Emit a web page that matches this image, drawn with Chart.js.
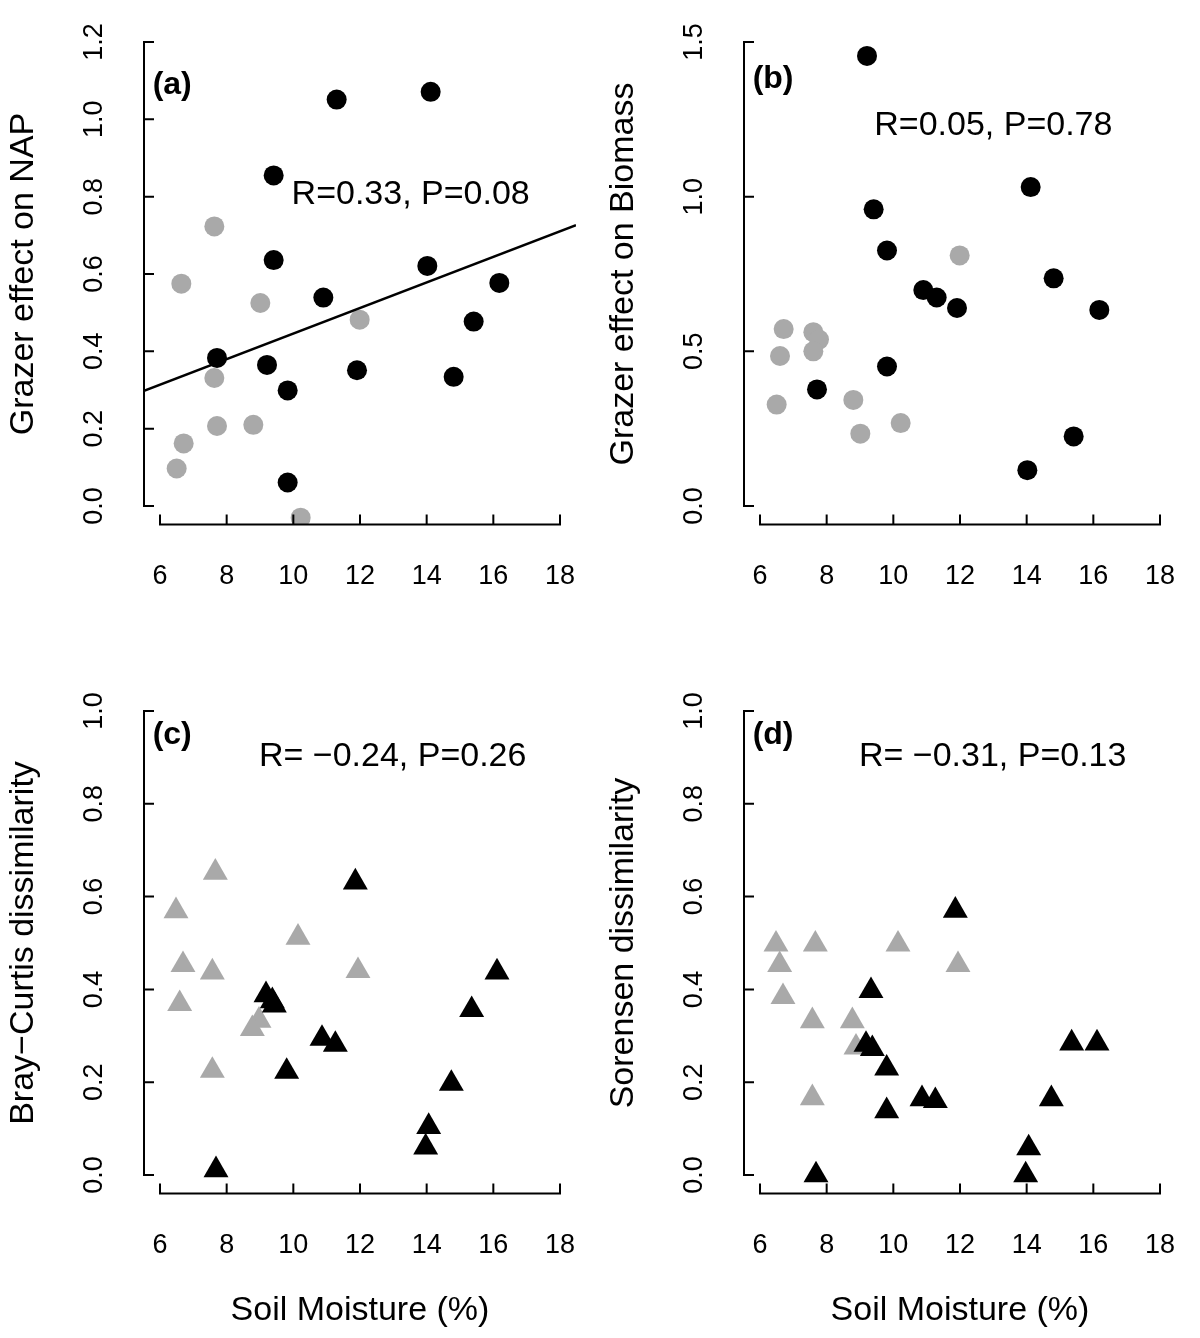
<!DOCTYPE html>
<html>
<head>
<meta charset="utf-8">
<script src="https://cdn.jsdelivr.net/npm/chart.js@4.4.1/dist/chart.umd.min.js"></script>
<style>
  html, body { margin: 0; padding: 0; background: #ffffff; }
  #wrap { position: relative; width: 1200px; height: 1338px; background: #ffffff; }
  .panel { position: absolute; width: 600px; height: 669px; }
  .panel canvas { display: block; }
</style>
</head>
<body>
<div id="wrap">
  <div class="panel" style="left:0;top:0"><canvas id="cA" width="600" height="669"></canvas></div>
  <div class="panel" style="left:600px;top:0"><canvas id="cB" width="600" height="669"></canvas></div>
  <div class="panel" style="left:0;top:669px"><canvas id="cC" width="600" height="669"></canvas></div>
  <div class="panel" style="left:600px;top:669px"><canvas id="cD" width="600" height="669"></canvas></div>
</div>
<script>
// ---------------- data ----------------
// x axis: soil moisture (%)
const xTicks = [6, 8, 10, 12, 14, 16, 18];
const xTickLabels = ['6', '8', '10', '12', '14', '16', '18'];

// (a) grazer effect on NAP
const napBlackX = [11.30, 14.12, 9.41, 9.41, 14.02, 10.90, 16.18, 15.41, 7.71, 9.21, 11.91, 14.81, 9.83, 9.83];
const napBlackY = [1.051, 1.071, 0.855, 0.636, 0.621, 0.539, 0.577, 0.477, 0.383, 0.365, 0.351, 0.334, 0.299, 0.061];
const napGreyX = [7.63, 6.64, 9.01, 11.99, 7.63, 7.71, 8.80, 6.71, 6.50, 10.22];
const napGreyY = [0.723, 0.575, 0.525, 0.482, 0.331, 0.207, 0.210, 0.162, 0.097, -0.030];
const napFitX = [5.52, 18.48];
const napFitY = [0.298, 0.726];
const napYTicks = [0, 0.2, 0.4, 0.6, 0.8, 1.0, 1.2];
const napYTickLabels = ['0.0', '0.2', '0.4', '0.6', '0.8', '1.0', '1.2'];

// (b) grazer effect on biomass
const bioBlackX = [9.21, 14.12, 9.41, 9.81, 10.90, 11.30, 11.91, 14.81, 16.18, 9.81, 7.71, 15.41, 14.02];
const bioBlackY = [1.455, 1.031, 0.959, 0.826, 0.698, 0.674, 0.640, 0.736, 0.634, 0.451, 0.377, 0.225, 0.116];
const bioGreyX = [11.99, 6.71, 7.60, 7.77, 7.60, 6.60, 6.50, 8.80, 9.01, 10.22];
const bioGreyY = [0.810, 0.572, 0.562, 0.538, 0.500, 0.485, 0.328, 0.343, 0.234, 0.268];
const bioYTicks = [0, 0.5, 1.0, 1.5];
const bioYTickLabels = ['0.0', '0.5', '1.0', '1.5'];

// (c) Bray-Curtis dissimilarity
const bcGreyX = [7.66, 6.48, 10.14, 6.69, 7.57, 11.94, 6.59, 8.97, 8.77, 7.57];
const bcGreyY = [0.652, 0.569, 0.512, 0.453, 0.437, 0.440, 0.369, 0.333, 0.315, 0.225];
const bcBlackX = [11.86, 16.11, 9.18, 9.37, 9.43, 15.35, 10.86, 11.26, 9.80, 14.74, 14.06, 13.97, 7.68];
const bcBlackY = [0.631, 0.437, 0.388, 0.375, 0.366, 0.356, 0.294, 0.281, 0.223, 0.197, 0.104, 0.060, 0.011];

// (d) Sorensen dissimilarity
const soGreyX = [6.48, 7.66, 10.14, 6.59, 11.94, 6.69, 7.57, 8.77, 8.88, 7.57];
const soGreyY = [0.497, 0.497, 0.497, 0.453, 0.453, 0.384, 0.332, 0.332, 0.275, 0.166];
const soBlackX = [11.86, 9.33, 15.35, 16.11, 9.18, 9.37, 9.80, 10.86, 11.26, 14.74, 9.80, 14.06, 7.68, 13.97];
const soBlackY = [0.570, 0.397, 0.284, 0.284, 0.281, 0.272, 0.230, 0.164, 0.160, 0.164, 0.138, 0.058, 0.000, 0.000];

const disYTicks = [0, 0.2, 0.4, 0.6, 0.8, 1.0];
const disYTickLabels = ['0.0', '0.2', '0.4', '0.6', '0.8', '1.0'];

// text
const yTitles = ['Grazer effect on NAP', 'Grazer effect on Biomass', 'Bray\u2212Curtis dissimilarity', 'Sorensen dissimilarity'];
const xTitle = 'Soil Moisture (%)';
const statTexts = ['R=0.33, P=0.08', 'R=0.05, P=0.78', 'R= \u22120.24, P=0.26', 'R= \u22120.31, P=0.13'];
const panelTags = ['(a)', '(b)', '(c)', '(d)'];
// anchor positions of the texts in data units
const statX = [13.52, 13.0, 12.98, 12.98];
const statY = [0.804, 1.231, 0.902, 0.902];
const tagX = [5.78, 5.78, 5.78, 5.78];
const tagY = [1.089, 1.38, 0.948, 0.948];

// ---------------- styling ----------------
const FONT = "'Liberation Sans', Arial, Helvetica, sans-serif";
const GREY = '#a9a9a9';
const BLACK = '#000000';
const X_MIN = 5.52, X_MAX = 18.48;

function pts(xs, ys) { return xs.map((x, i) => ({ x: x, y: ys[i] })); }

function makePanel(canvasId, idx, cfg) {
  const t0 = cfg.yTicks[0], t1 = cfg.yTicks[cfg.yTicks.length - 1];
  const yMin = t0 - 0.04 * (t1 - t0), yMax = t1 + 0.04 * (t1 - t0);

  const rStyle = {
    id: 'rStyle' + idx,
    afterDatasetsDraw(chart) {
      const { ctx, chartArea } = chart;
      const xs = chart.scales.x, ys = chart.scales.y;
      const tk = 9;
      ctx.save();
      ctx.strokeStyle = BLACK;
      ctx.lineWidth = 2;
      ctx.lineCap = 'square';
      // x axis (R style, inward ticks)
      const yb = chartArea.bottom;
      ctx.beginPath();
      ctx.moveTo(xs.getPixelForValue(xTicks[0]), yb);
      ctx.lineTo(xs.getPixelForValue(xTicks[xTicks.length - 1]), yb);
      xTicks.forEach(v => {
        const p = xs.getPixelForValue(v);
        ctx.moveTo(p, yb); ctx.lineTo(p, yb - tk);
      });
      ctx.stroke();
      // y axis
      const xl = chartArea.left;
      ctx.beginPath();
      ctx.moveTo(xl, ys.getPixelForValue(cfg.yTicks[0]));
      ctx.lineTo(xl, ys.getPixelForValue(cfg.yTicks[cfg.yTicks.length - 1]));
      cfg.yTicks.forEach(v => {
        const p = ys.getPixelForValue(v);
        ctx.moveTo(xl, p); ctx.lineTo(xl + tk, p);
      });
      ctx.stroke();
      // annotation texts
      ctx.fillStyle = BLACK;
      ctx.textBaseline = 'middle';
      ctx.textAlign = 'center';
      ctx.font = '34px ' + FONT;
      ctx.fillText(statTexts[idx], xs.getPixelForValue(statX[idx]), ys.getPixelForValue(statY[idx]));
      ctx.textAlign = 'left';
      ctx.font = 'bold 32px ' + FONT;
      ctx.fillText(panelTags[idx], xs.getPixelForValue(tagX[idx]), ys.getPixelForValue(tagY[idx]));
      ctx.restore();
    }
  };

  const datasets = [
    {
      type: 'scatter', data: pts(cfg.greyX, cfg.greyY), pointStyle: cfg.shape,
      pointRadius: cfg.radius, pointBackgroundColor: GREY, pointBorderWidth: 0, order: 2
    },
    {
      type: 'scatter', data: pts(cfg.blackX, cfg.blackY), pointStyle: cfg.shape,
      pointRadius: cfg.radius, pointBackgroundColor: BLACK, pointBorderWidth: 0, order: 1
    }
  ];
  if (cfg.fitX) {
    datasets.push({
      type: 'line', data: pts(cfg.fitX, cfg.fitY), borderColor: BLACK, borderWidth: 2.5,
      pointRadius: 0, fill: false, showLine: true, order: 0
    });
  }

  new Chart(document.getElementById(canvasId), {
    type: 'scatter',
    data: { datasets: datasets },
    options: {
      responsive: false,
      animation: false,
      events: [],
      layout: { padding: { top: 23.4, right: 24, left: 0, bottom: 0 } },
      plugins: { legend: { display: false }, tooltip: { enabled: false }, title: { display: false } },
      scales: {
        x: {
          type: 'linear', position: 'bottom', min: X_MIN, max: X_MAX,
          afterBuildTicks: s => { s.ticks = xTicks.map(v => ({ value: v })); },
          afterFit: s => { s.height = 144.4; s.paddingLeft = 0; s.paddingRight = 0; },
          grid: { display: false, drawTicks: false },
          border: { display: false },
          ticks: {
            color: BLACK, font: { family: FONT, size: 27 }, padding: 36,
            minRotation: 0, maxRotation: 0, autoSkip: false,
            callback: (v, i) => xTickLabels[i]
          },
          title: cfg.showXTitle ? {
            display: true, text: xTitle, color: BLACK, font: { family: FONT, size: 34 },
            padding: { top: 0, bottom: 6.6 }
          } : { display: false }
        },
        y: {
          type: 'linear', position: 'left', min: yMin, max: yMax,
          afterBuildTicks: s => { s.ticks = cfg.yTicks.map(v => ({ value: v })); },
          afterFit: s => { s.width = 144; s.paddingTop = 0; s.paddingBottom = 0; },
          grid: { display: false, drawTicks: false },
          border: { display: false },
          ticks: {
            color: BLACK, font: { family: FONT, size: 27 }, padding: 31,
            minRotation: 90, maxRotation: 90, crossAlign: 'center', autoSkip: false,
            callback: (v, i) => cfg.yTickLabels[i]
          },
          title: {
            display: true, text: yTitles[idx], color: BLACK, font: { family: FONT, size: 34 },
            padding: { top: 3, bottom: 0 }
          }
        }
      }
    },
    plugins: [rStyle]
  });
}

makePanel('cA', 0, {
  greyX: napGreyX, greyY: napGreyY, blackX: napBlackX, blackY: napBlackY,
  fitX: napFitX, fitY: napFitY, yTicks: napYTicks, yTickLabels: napYTickLabels,
  shape: 'circle', radius: 10, showXTitle: false
});
makePanel('cB', 1, {
  greyX: bioGreyX, greyY: bioGreyY, blackX: bioBlackX, blackY: bioBlackY,
  yTicks: bioYTicks, yTickLabels: bioYTickLabels,
  shape: 'circle', radius: 10, showXTitle: false
});
makePanel('cC', 2, {
  greyX: bcGreyX, greyY: bcGreyY, blackX: bcBlackX, blackY: bcBlackY,
  yTicks: disYTicks, yTickLabels: disYTickLabels,
  shape: 'triangle', radius: 14.4, showXTitle: true
});
makePanel('cD', 3, {
  greyX: soGreyX, greyY: soGreyY, blackX: soBlackX, blackY: soBlackY,
  yTicks: disYTicks, yTickLabels: disYTickLabels,
  shape: 'triangle', radius: 14.4, showXTitle: true
});
</script>
</body>
</html>
